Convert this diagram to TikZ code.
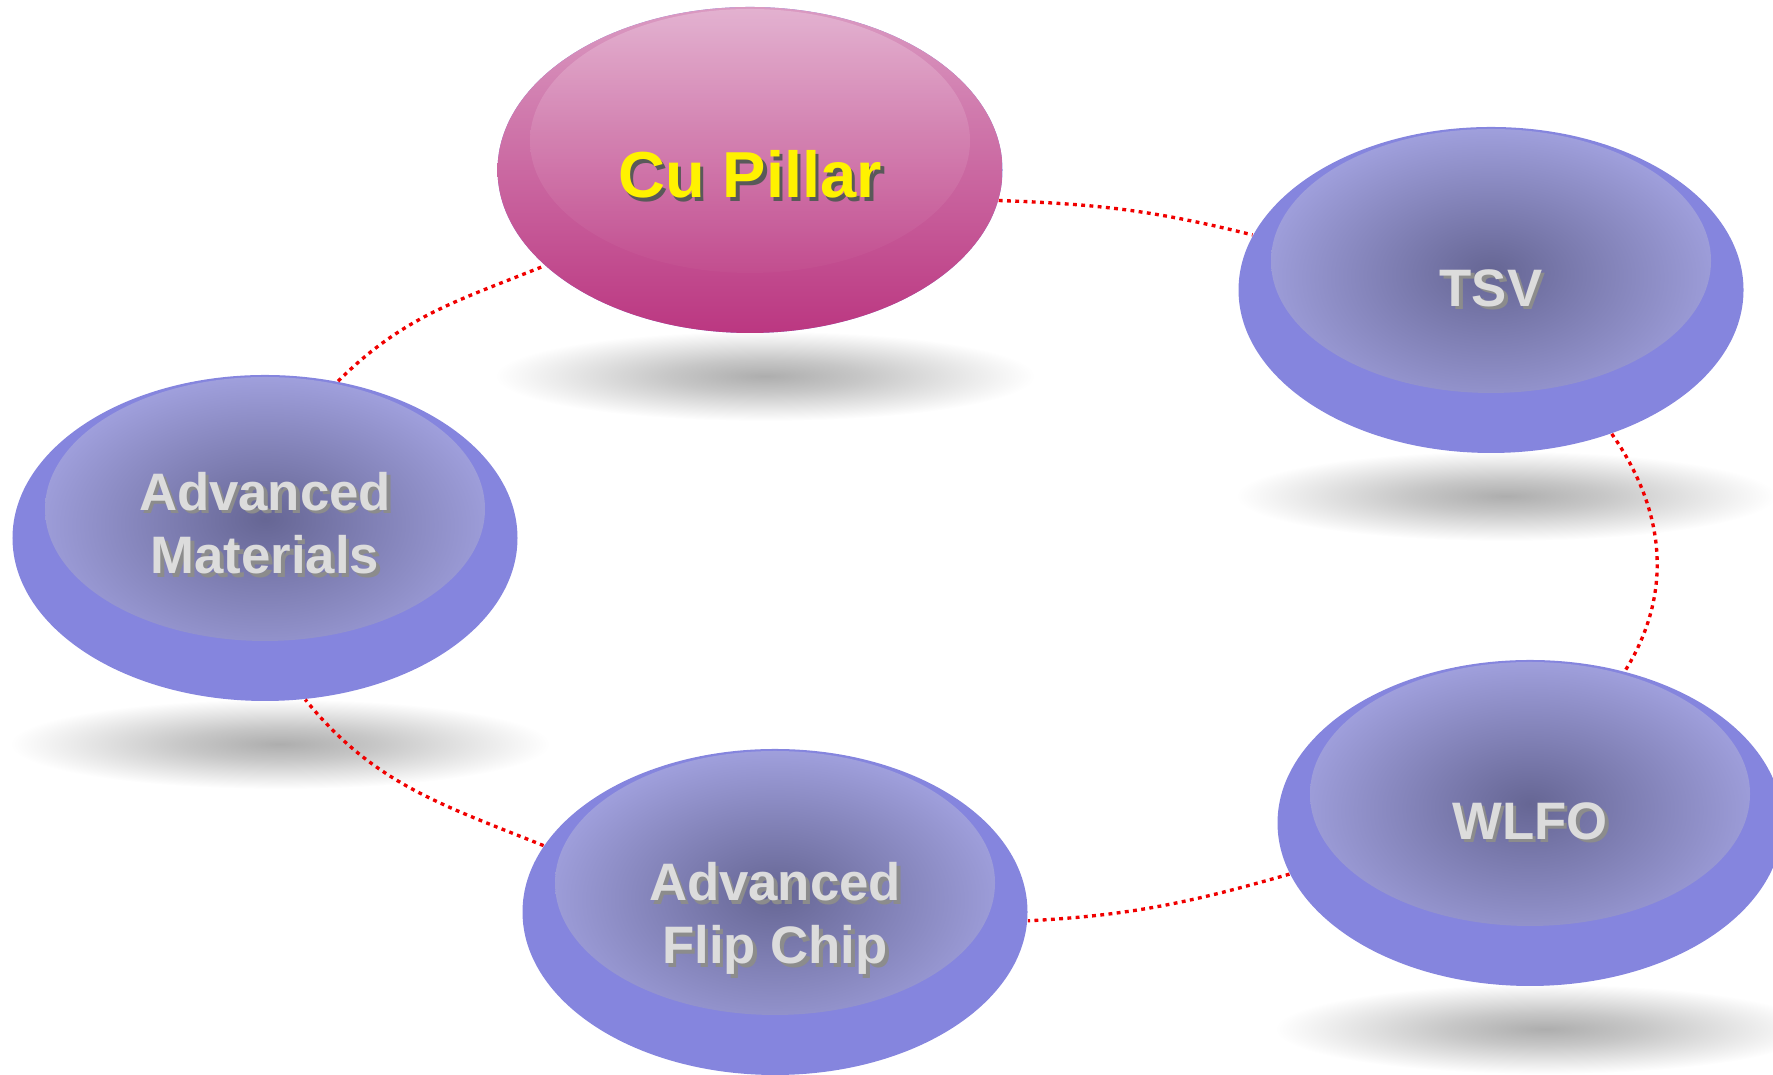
\documentclass[tikz,border=0pt]{standalone}
\usepackage{fontspec}
\setmainfont{Liberation Sans}
\usetikzlibrary{shapes.geometric,backgrounds}
\definecolor{pillblue}{HTML}{8585DE}
\definecolor{pilldark}{HTML}{666694}
\definecolor{pilllight}{HTML}{A4A4E2}
\definecolor{cutop}{HTML}{DA9AC2}
\definecolor{cubottom}{HTML}{BB3781}
\definecolor{cuhigh}{HTML}{E7BBD6}
\definecolor{labelgray}{HTML}{DCDCDC}
\definecolor{linkred}{HTML}{F00000}
\pgfdeclareradialshading{pillglow}{\pgfpoint{0bp}{3bp}}{color(0bp)=(pilldark); color(25bp)=(pilllight); color(50bp)=(pilllight)}
\pgfdeclareradialshading{dropshade}{\pgfpoint{0bp}{0bp}}{color(0bp)=(black!32); color(9bp)=(black!22); color(25bp)=(white); color(50bp)=(white)}
\newcommand{\shadowed}[2][black!45]{\rlap{\kern1pt\raisebox{-1pt}{\color{#1}#2}}#2}
\begin{document}
\begin{tikzpicture}[
    pill/.style={ellipse, minimum width=5.05cm, minimum height=3.26cm, inner sep=0pt,
      fill=pillblue, text=labelgray, align=center,
      font=\fontsize{15pt}{18pt}\selectfont\bfseries,
      path picture={\shade[shading=pillglow] ([yshift=0.29cm]path picture bounding box.center)
        ellipse [x radius=2.2cm, y radius=1.32cm];}},
    hub/.style={pill, top color=cutop, bottom color=cubottom, text=yellow,
      font=\fontsize{18.5pt}{22pt}\selectfont\bfseries,
      path picture={\shade[top color=cuhigh, bottom color=cubottom, opacity=0.75]
        ([yshift=0.29cm]path picture bounding box.center) ellipse [x radius=2.2cm, y radius=1.32cm];}},
    link/.style={draw=linkred, line width=0.95pt, dash pattern=on 1.1pt off 1.25pt}]
  \useasboundingbox (0,0) rectangle (17.73,10.75);

  \node[hub, text height=0.6cm] (cu) at (7.50,9.05) {\shadowed[black!65]{Cu Pillar}};
  \node[pill] (tsv) at (14.91,7.85) {\shadowed{TSV}};
  \node[pill, text depth=0.3cm] (mat) at (2.65,5.37) {\shadowed{Advanced}\\\shadowed{Materials}};
  \node[pill] (wlfo) at (15.30,2.52) {\shadowed{WLFO}};
  \node[pill, text height=1.18cm] (flip) at (7.75,1.63) {\shadowed{Advanced}\\\shadowed{Flip Chip}};

  % dotted ring
  \draw[link] (cu.-7) to[out=-2,in=166] (tsv.167);
  \draw[link] (tsv.-50) to[out=-55,in=58] (wlfo.58);
  \draw[link] (wlfo.192) to[out=196,in=3] (flip.-2);
  \draw[link] (flip.164) to[out=158,in=-51] (mat.-76);
  \draw[link] (mat.65) to[out=45,in=202] (cu.205);

  % floor shadows
  \begin{scope}[on background layer]
    \foreach \n in {cu,tsv,mat,wlfo}
      \shade[shading=dropshade] ([shift={(0.15,-2.06)}]\n.center) ellipse [x radius=2.7cm, y radius=0.45cm];
  \end{scope}
\end{tikzpicture}
\end{document}
